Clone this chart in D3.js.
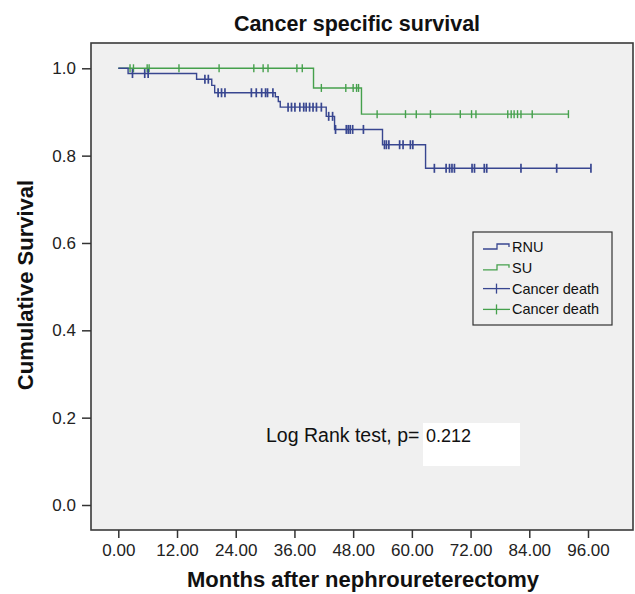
<!DOCTYPE html>
<html>
<head>
<meta charset="utf-8">
<script src="https://cdn.jsdelivr.net/npm/d3@7"></script>
<style>
  body { margin: 0; background: #fff; }
  svg text { font-family: "Liberation Sans", Arial, sans-serif; }
</style>
</head>
<body>
<div class="container"></div>
<script>
// step times (months) and survival after each step
var rnuTimes = [0, 2.0, 16.0, 19.1, 19.7, 32.1, 32.7, 33.1, 42.5, 44.2, 54.0, 62.8];
var rnuSurvival = [1, 0.988, 0.975, 0.961, 0.944, 0.935, 0.924, 0.911, 0.890, 0.860, 0.825, 0.771];
var rnuCensored = [2.9, 5.4, 6.1, 17.7, 18.4, 20.4, 21.1, 21.8, 27.2, 28.2, 29.3, 30.1, 30.5, 31.6,
	34.7, 35.4, 36.1, 37.1, 37.9, 38.4, 39.1, 39.8, 40.5, 41.5, 43.0, 43.8, 44.4, 46.6, 47.0, 47.4,
	47.9, 50.1, 54.4, 54.8, 55.3, 57.5, 58.2, 59.7, 60.2, 64.6, 67.0, 67.7, 68.2, 68.7, 72.3, 72.8,
	74.8, 75.3, 82.3, 89.6, 96.6];

var suTimes = [0, 39.9, 49.7];
var suSurvival = [1, 0.955, 0.895];
var suCensored = [2.4, 3.1, 5.9, 6.3, 12.4, 20.6, 27.7, 29.6, 30.6, 36.5, 37.6, 41.5, 46.5, 48.0,
	48.7, 49.1, 52.9, 58.7, 60.9, 63.8, 69.9, 72.2, 73.1, 79.6, 80.3, 80.9, 81.6, 82.3, 84.6, 92.0];

var xTicks = [0, 12, 24, 36, 48, 60, 72, 84, 96];
var yTicks = [0, 0.2, 0.4, 0.6, 0.8, 1.0];
var legendLabels = ["RNU", "SU", "Cancer death", "Cancer death"];

var BLUE = '#384690', GREEN = '#45a04c';

var appendGroupAndTranslateBy = function(x, y, svg) {
	return svg.append('g').attr('transform', 'translate(' + x + ',' + y + ')');
}

var survivalAt = function(times, surv, t) {
	return surv[d3.bisectRight(times, t) - 1];
}

var drawCurve = function(g, times, surv, censored, color, xScale, yScale, tickH, w) {
	var end = d3.max(censored.concat(times));
	var pts = times.map(function(t, i) { return [t, surv[i]]; });
	pts.push([end, surv[surv.length - 1]]);

	var stepLine = d3.line()
		.curve(d3.curveStepAfter)
		.x(function(d) { return xScale(d[0]); })
		.y(function(d) { return yScale(d[1]); });

	g.append('path')
		.datum(pts)
		.attr('d', stepLine)
		.attr('fill', 'none')
		.attr('stroke', color)
		.attr('stroke-width', 1.4);

	g.selectAll(null).data(censored)
		.enter()
		.append('line')
		.attr('x1', function(d) { return xScale(d); })
		.attr('x2', function(d) { return xScale(d); })
		.attr('y1', function(d) { return yScale(survivalAt(times, surv, d)) - tickH; })
		.attr('y2', function(d) { return yScale(survivalAt(times, surv, d)) + tickH; })
		.attr('stroke', color)
		.attr('stroke-width', w);
}

var loadChart = function() {
	var WIDTH = 635, HEIGHT = 594;
	var FRAME = {left: 91, top: 43, right: 633, bottom: 530};

	var xScale = d3.scaleLinear().domain([0, 96]).range([118.3, 588]);
	var yScale = d3.scaleLinear().domain([0, 1]).range([505, 68.3]);

	var svg = d3.select('.container').append('svg')
		.attr('width', WIDTH)
		.attr('height', HEIGHT);

	svg.append('rect')
		.attr('x', FRAME.left).attr('y', FRAME.top)
		.attr('width', FRAME.right - FRAME.left)
		.attr('height', FRAME.bottom - FRAME.top)
		.attr('fill', '#f0f0f0')
		.attr('stroke', '#3a3a3a')
		.attr('stroke-width', 1.6);

	// axes
	var xAxis = d3.axisBottom(xScale).tickValues(xTicks)
		.tickFormat(function(d) { return d3.format('.2f')(d); })
		.tickSize(8).tickPadding(6);
	var yAxis = d3.axisLeft(yScale).tickValues(yTicks)
		.tickFormat(d3.format('.1f'))
		.tickSize(9).tickPadding(6);

	var gx = appendGroupAndTranslateBy(0, FRAME.bottom, svg).call(xAxis);
	var gy = appendGroupAndTranslateBy(FRAME.left, 0, svg).call(yAxis);
	[gx, gy].forEach(function(g) {
		g.select('.domain').remove();
		g.selectAll('.tick line').attr('stroke', '#333').attr('stroke-width', 1.5);
		g.selectAll('.tick text')
			.attr('fill', '#222')
			.style('font-size', '17px')
			.style('font-family', '"Liberation Sans", Arial, sans-serif');
	});

	var chartGroup = svg.append('g');
	drawCurve(chartGroup, suTimes, suSurvival, suCensored, GREEN, xScale, yScale, 4, 1.4);
	drawCurve(chartGroup, rnuTimes, rnuSurvival, rnuCensored, BLUE, xScale, yScale, 4.5, 1.7);

	// titles
	svg.append('text')
		.attr('x', 357).attr('y', 31)
		.attr('text-anchor', 'middle')
		.style('font-size', '21.5px').style('font-weight', 'bold')
		.attr('fill', '#111')
		.text('Cancer specific survival');

	svg.append('text')
		.attr('x', 363).attr('y', 587)
		.attr('text-anchor', 'middle')
		.style('font-size', '22px').style('font-weight', 'bold')
		.attr('fill', '#111')
		.text('Months after nephroureterectomy');

	svg.append('text')
		.attr('transform', 'translate(33,285) rotate(-90)')
		.attr('text-anchor', 'middle')
		.style('font-size', '22px').style('font-weight', 'bold')
		.attr('fill', '#111')
		.text('Cumulative Survival');

	// legend
	var legend = appendGroupAndTranslateBy(473, 232, svg);
	legend.append('rect')
		.attr('width', 139).attr('height', 93)
		.attr('fill', '#f0f0f0')
		.attr('stroke', '#333').attr('stroke-width', 1.2);

	var legendColors = [BLUE, GREEN, BLUE, GREEN];
	var rows = legend.selectAll('.row').data(legendLabels)
		.enter()
		.append('g')
		.attr('class', 'row')
		.attr('transform', function(d, i) { return 'translate(0,' + (15 + i * 20.8) + ')'; });

	rows.each(function(d, i) {
		var row = d3.select(this);
		var c = legendColors[i];
		if (i < 2) {
			row.append('path')
				.attr('d', 'M10,2 H24 V-3 H36 V0')
				.attr('fill', 'none').attr('stroke', c).attr('stroke-width', 1.3);
		} else {
			row.append('line').attr('x1', 10).attr('x2', 37).attr('y1', 0).attr('y2', 0)
				.attr('stroke', c).attr('stroke-width', 1.3);
			row.append('line').attr('x1', 23.5).attr('x2', 23.5).attr('y1', -5).attr('y2', 5)
				.attr('stroke', c).attr('stroke-width', 1.3);
		}
		row.append('text')
			.attr('x', 39).attr('y', 5)
			.style('font-size', '14.5px')
			.attr('fill', '#111')
			.text(d);
	});

	// log rank annotation
	svg.append('rect')
		.attr('x', 423).attr('y', 423)
		.attr('width', 97).attr('height', 43)
		.attr('fill', '#fff');
	svg.append('text')
		.attr('x', 266).attr('y', 442)
		.style('font-size', '19.5px')
		.attr('fill', '#111')
		.text('Log Rank test, p=');
	svg.append('text')
		.attr('x', 426).attr('y', 442)
		.style('font-size', '18px')
		.attr('fill', '#111')
		.text('0.212');
};

window.onload = function() {
	loadChart();
};
</script>
</body>
</html>
